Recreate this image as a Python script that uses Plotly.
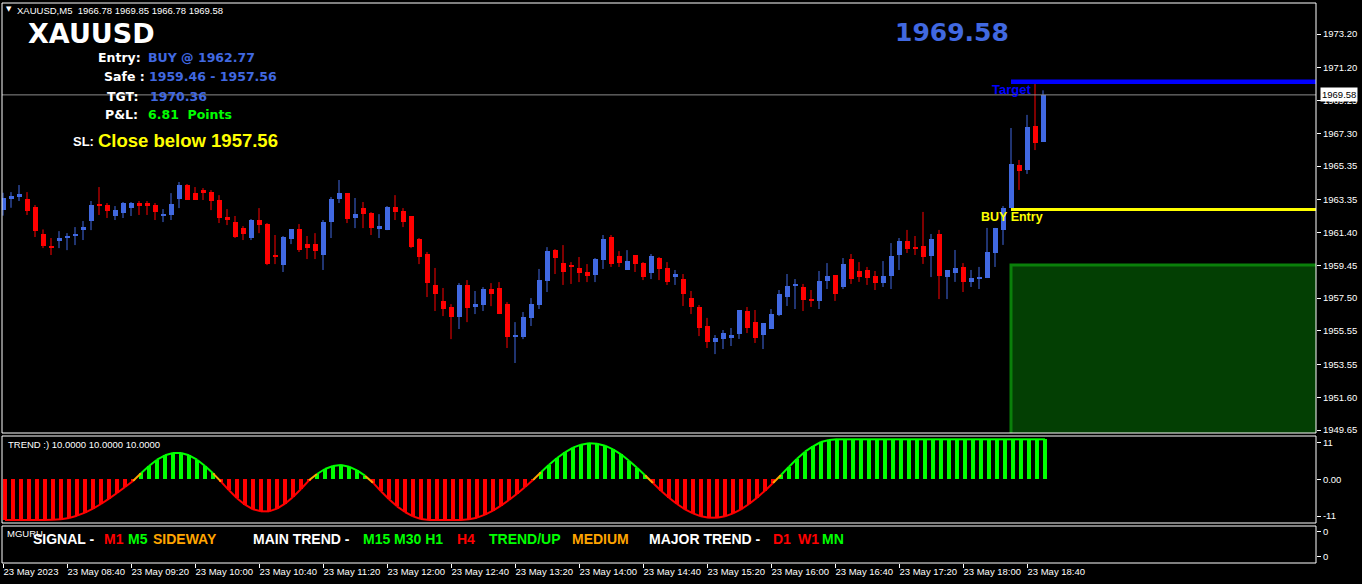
import pandas as pd
import plotly.graph_objects as go

# ---------------- data ----------------
symbol = "XAUUSD"
timeframe = "M5"
times = pd.date_range("2023-05-23 08:00", periods=131, freq="5min")

opens = [1962.73, 1963.39, 1963.51, 1963.39, 1962.91, 1961.31, 1960.59, 1960.89, 1961.07, 1961.19,
         1961.54, 1962.08, 1963.09, 1963.03, 1962.38, 1962.55, 1962.85, 1963.15, 1963.15, 1963.03,
         1962.40, 1962.44, 1963.39, 1964.22, 1963.74, 1963.92, 1963.80, 1963.33, 1962.32, 1962.02,
         1961.66, 1961.07, 1962.14, 1961.90, 1960.06, 1959.46, 1961.01, 1961.60, 1960.71, 1960.71,
         1960.06, 1962.02, 1963.39, 1963.74, 1962.26, 1962.85, 1962.55, 1961.60, 1961.54, 1962.91,
         1962.67, 1962.38, 1961.01, 1960.12, 1958.28, 1957.32, 1956.97, 1956.37, 1958.28, 1956.97,
         1957.08, 1958.04, 1958.10, 1957.14, 1955.20, 1955.18, 1956.31, 1957.08, 1958.51, 1960.35,
         1959.58, 1959.46, 1959.29, 1959.05, 1958.87, 1959.76, 1961.13, 1960.00, 1959.17, 1960.06,
         1959.58, 1958.99, 1959.88, 1959.29, 1958.75, 1958.63, 1957.50, 1956.97, 1955.84, 1954.89,
         1955.07, 1955.13, 1955.36, 1956.73, 1956.08, 1955.30, 1955.66, 1956.49, 1957.56, 1958.24,
         1958.16, 1957.44, 1957.33, 1958.51, 1958.87, 1958.16, 1959.82, 1959.11, 1959.17, 1958.81,
         1958.40, 1958.81, 1960.06, 1960.89, 1960.48, 1960.60, 1960.00, 1961.31, 1958.75, 1958.99,
         1959.35, 1958.46, 1958.63, 1958.69, 1960.18, 1961.55, 1962.86, 1965.41, 1965.12, 1967.73,
         1966.78]
highs = [1963.76, 1963.80, 1964.22, 1963.80, 1963.03, 1961.58, 1961.07, 1961.48, 1961.36, 1961.72,
         1962.08, 1963.27, 1964.10, 1963.15, 1962.97, 1963.21, 1963.21, 1963.27, 1963.27, 1963.15,
         1962.79, 1963.74, 1964.40, 1964.28, 1964.10, 1964.04, 1963.92, 1963.62, 1962.79, 1962.38,
         1961.78, 1962.20, 1962.85, 1961.96, 1961.25, 1961.19, 1961.60, 1961.90, 1961.19, 1961.36,
         1962.14, 1963.51, 1964.52, 1963.74, 1963.45, 1963.21, 1962.61, 1962.49, 1962.97, 1963.62,
         1962.85, 1962.38, 1961.07, 1960.24, 1959.29, 1958.10, 1957.14, 1958.39, 1958.57, 1957.92,
         1958.15, 1958.39, 1958.45, 1957.26, 1956.07, 1956.67, 1957.50, 1959.23, 1960.53, 1960.41,
         1960.65, 1959.64, 1959.94, 1959.52, 1959.88, 1961.25, 1961.25, 1960.29, 1960.35, 1960.06,
         1959.64, 1960.12, 1959.94, 1959.64, 1959.17, 1958.93, 1957.92, 1957.09, 1956.32, 1955.30,
         1955.60, 1955.72, 1956.79, 1956.97, 1956.79, 1956.02, 1956.85, 1957.98, 1958.93, 1958.63,
         1958.34, 1957.98, 1959.11, 1959.58, 1958.87, 1959.88, 1960.12, 1959.64, 1959.35, 1959.11,
         1959.70, 1960.77, 1961.07, 1961.55, 1961.19, 1962.62, 1961.31, 1961.55, 1959.17, 1960.36,
         1959.58, 1959.17, 1959.35, 1961.67, 1961.67, 1962.97, 1967.61, 1965.71, 1968.39, 1970.23,
         1969.85]
lows = [1962.40, 1962.87, 1963.27, 1962.44, 1961.13, 1960.47, 1960.06, 1960.47, 1960.35, 1960.65,
        1960.95, 1961.54, 1962.44, 1962.26, 1962.14, 1962.26, 1962.38, 1962.44, 1962.44, 1962.14,
        1962.02, 1962.14, 1962.85, 1963.33, 1963.33, 1963.33, 1962.73, 1961.96, 1961.84, 1961.07,
        1960.95, 1960.95, 1961.36, 1959.46, 1959.52, 1959.05, 1960.71, 1960.24, 1959.82, 1959.82,
        1959.17, 1961.07, 1963.15, 1961.96, 1961.66, 1961.66, 1961.25, 1961.07, 1961.54, 1962.14,
        1961.72, 1960.47, 1959.52, 1957.56, 1956.73, 1956.43, 1955.06, 1955.66, 1956.07, 1956.55,
        1956.73, 1957.02, 1956.55, 1954.53, 1953.64, 1955.06, 1955.84, 1956.85, 1957.86, 1958.93,
        1958.28, 1958.34, 1958.45, 1958.45, 1958.45, 1959.23, 1959.35, 1959.35, 1959.17, 1959.05,
        1958.57, 1958.63, 1958.57, 1958.28, 1958.28, 1957.03, 1956.55, 1955.24, 1954.53, 1954.17,
        1954.47, 1954.65, 1955.07, 1955.42, 1954.83, 1954.47, 1955.66, 1956.43, 1957.03, 1956.85,
        1956.73, 1956.97, 1956.85, 1958.04, 1957.33, 1958.04, 1958.34, 1958.46, 1958.28, 1957.98,
        1958.16, 1958.04, 1959.17, 1960.18, 1960.06, 1959.53, 1958.75, 1957.44, 1957.44, 1958.46,
        1957.86, 1958.16, 1958.04, 1958.69, 1959.35, 1960.66, 1962.86, 1963.93, 1964.88, 1966.30,
        1966.78]
closes = [1963.45, 1963.56, 1963.68, 1962.67, 1961.48, 1960.59, 1960.47, 1961.07, 1961.19, 1961.31,
          1961.72, 1963.03, 1962.97, 1962.67, 1962.73, 1963.15, 1963.15, 1962.97, 1962.97, 1962.61,
          1962.44, 1963.09, 1964.22, 1963.33, 1963.33, 1963.74, 1963.27, 1962.26, 1962.14, 1961.13,
          1961.31, 1962.14, 1961.84, 1959.52, 1959.94, 1961.13, 1961.60, 1960.35, 1960.47, 1960.29,
          1962.02, 1963.39, 1963.74, 1962.20, 1962.49, 1962.49, 1961.66, 1961.78, 1962.91, 1962.61,
          1962.02, 1960.53, 1959.94, 1958.39, 1957.74, 1956.85, 1956.37, 1958.28, 1956.91, 1957.14,
          1958.04, 1957.74, 1956.55, 1955.18, 1955.24, 1956.37, 1957.14, 1958.57, 1960.29, 1959.88,
          1959.05, 1959.35, 1958.99, 1958.81, 1959.82, 1961.01, 1959.52, 1959.58, 1959.70, 1959.52,
          1958.75, 1960.00, 1959.23, 1958.45, 1958.93, 1957.74, 1956.97, 1955.72, 1954.89, 1955.13,
          1955.42, 1955.30, 1956.79, 1955.72, 1955.13, 1956.02, 1956.55, 1957.74, 1958.22, 1958.28,
          1957.39, 1957.33, 1958.51, 1958.81, 1957.74, 1959.53, 1958.63, 1958.75, 1958.69, 1958.40,
          1958.81, 1960.00, 1960.89, 1960.42, 1960.42, 1959.94, 1961.01, 1958.81, 1959.17, 1959.29,
          1958.46, 1958.69, 1958.75, 1960.24, 1961.67, 1962.86, 1965.47, 1965.06, 1967.67, 1966.72,
          1969.58]

trend_values = [-12.2, -12.2, -12.2, -12.2, -12.2, -12.2, -12.1, -12.0, -11.6, -10.9,
                -10.0, -8.8, -7.4, -5.8, -4.1, -2.3, -0.5, 1.8, 4.0, 5.9,
                7.2, 7.9, 7.9, 7.2, 5.9, 4.0, 1.8, -0.7, -3.3, -5.7,
                -7.6, -9.0, -9.6, -9.6, -8.8, -7.3, -5.3, -2.9, -0.3, 1.6,
                3.1, 4.0, 4.3, 3.8, 2.7, 1.1, -1.0, -3.6, -6.0, -8.1,
                -9.8, -11.1, -11.9, -12.2, -12.2, -12.2, -12.2, -12.2, -12.0, -11.5,
                -10.6, -9.4, -7.9, -6.2, -4.3, -2.3, -0.2, 2.1, 4.4, 6.4,
                8.1, 9.5, 10.4, 10.8, 10.7, 10.1, 9.0, 7.5, 5.6, 3.5,
                1.2, -1.1, -3.4, -5.5, -7.4, -9.0, -10.2, -11.1, -11.5, -11.5,
                -11.1, -10.2, -9.0, -7.4, -5.5, -3.4, -1.1, 1.3, 3.8, 6.2,
                8.3, 9.9, 11.2, 11.8, 12.0, 12.0, 12.0, 12.0, 12.0, 12.0,
                12.0, 12.0, 12.0, 12.0, 12.0, 12.0, 12.0, 12.0, 12.0, 12.0,
                12.0, 12.0, 12.0, 12.0, 12.0, 12.0, 12.0, 12.0, 12.0, 12.0,
                12.0]

time_tick_labels = ["23 May 2023", "23 May 08:40", "23 May 09:20", "23 May 10:00", "23 May 10:40",
                    "23 May 11:20", "23 May 12:00", "23 May 12:40", "23 May 13:20", "23 May 14:00",
                    "23 May 14:40", "23 May 15:20", "23 May 16:00", "23 May 16:40", "23 May 17:20",
                    "23 May 18:00", "23 May 18:40"]
price_ticks = [1973.20, 1971.20, 1969.25, 1967.30, 1965.35, 1963.35, 1961.40,
               1959.45, 1957.50, 1955.55, 1953.55, 1951.60, 1949.65]
trend_ticks = [11, 0, -11]
trend_tick_labels = ["11", "0.00", "-11"]
trend_params = [10.0, 10.0, 10.0]

entry_price = 1962.77
safe_high = 1959.46
safe_low = 1957.56
target_price = 1970.36
pnl_points = 6.81
zone_bottom = 1948.5
signal_start_bar = 126

# ---------------- geometry helpers ----------------
W, H = 1362, 584
ML, MR, MT, MB = 2, 46, 3, 21
PW, PH = W - ML - MR, H - MT - MB
BAR_PX = 8


def pxx(px):
    return (px - ML) / PW


def pxy(py):
    return (H - MB - py) / PH


main_dom = [pxy(433), 1.0]
ind_dom = [pxy(523), pxy(436)]
sig_dom = [0.0, pxy(526)]

bar_len = pd.Timedelta(minutes=5)
x_start = times[0] - bar_len * (1 / BAR_PX)
x_end = x_start + bar_len * (PW / BAR_PX)

BLUE = "#4169E1"
RED = "#FF0000"
GREEN = "#00FF00"
ORANGE = "#FFA500"
YELLOW = "#FFFF00"
WHITE = "#FFFFFF"
FONT = "Liberation Sans"
WIDE = "DejaVu Sans"

fig = go.Figure()

# ---------------- candles ----------------
up = [c >= o for o, c in zip(opens, closes)]
body_base = [min(o, c) for o, c in zip(opens, closes)]
body_h = [max(abs(c - o), 0.06) for o, c in zip(opens, closes)]
body_col = [BLUE if u else RED for u in up]

for want, col in ((True, BLUE), (False, RED)):
    wx, wy = [], []
    for t, h, l, u in zip(times, highs, lows, up):
        if u == want:
            wx += [t, t, None]
            wy += [l, h, None]
    fig.add_trace(go.Scatter(x=wx, y=wy, mode="lines", line=dict(color=col, width=1),
                             xaxis="x", yaxis="y", hoverinfo="skip"))

fig.add_trace(go.Bar(x=times, y=body_h, base=body_base, width=bar_len.total_seconds() * 1000 * 5 / 8,
                     marker=dict(color=body_col, line=dict(width=0)), xaxis="x", yaxis="y",
                     hoverinfo="skip"))

# ---------------- trend histogram ----------------
hist_w = bar_len.total_seconds() * 1000 * 4 / 8
hist_col = [GREEN if v > 0 else RED for v in trend_values]
fig.add_trace(go.Bar(x=times, y=trend_values, base=0, width=hist_w, offset=0,
                     marker=dict(color=hist_col, line=dict(width=0)), xaxis="x2", yaxis="y2",
                     hoverinfo="skip"))
centers = [t + pd.Timedelta(milliseconds=hist_w / 2) for t in times]
segs = {RED: ([], []), GREEN: ([], []), ORANGE: ([], [])}
for i in range(len(trend_values) - 1):
    a, b = trend_values[i], trend_values[i + 1]
    col = RED if (a < 0 and b < 0) else GREEN if (a > 0 and b > 0) else ORANGE
    segs[col][0].extend([centers[i], centers[i + 1], None])
    segs[col][1].extend([a, b, None])
for col, (sx, sy) in segs.items():
    fig.add_trace(go.Scatter(x=sx, y=sy, mode="lines", line=dict(color=col, width=2),
                             xaxis="x2", yaxis="y2", hoverinfo="skip"))

# invisible trace so the bottom (signal) panel exists
fig.add_trace(go.Scatter(x=[times[0]], y=[0.5], mode="markers", marker=dict(opacity=0),
                         xaxis="x3", yaxis="y3", hoverinfo="skip"))

# ---------------- objects on main chart ----------------
obj_t0 = times[signal_start_bar]
shapes = [
    dict(type="rect", xref="x", yref="y", x0=obj_t0, x1=x_end + bar_len * 4, y0=zone_bottom, y1=safe_high,
         fillcolor="#033F03", line=dict(color="#0A800A", width=3), layer="below"),
    dict(type="line", xref="paper", yref="y", x0=0, x1=1, y0=closes[-1], y1=closes[-1],
         line=dict(color="#8C8C8C", width=1)),
    dict(type="line", xref="x", yref="y", x0=obj_t0, x1=x_end, y0=target_price, y1=target_price,
         line=dict(color="#0000FF", width=4.5)),
    dict(type="line", xref="x", yref="y", x0=obj_t0, x1=x_end, y0=entry_price, y1=entry_price,
         line=dict(color=YELLOW, width=3)),
]
# panel borders
for d in (main_dom, ind_dom, sig_dom):
    shapes.append(dict(type="rect", xref="paper", yref="paper", x0=0, x1=1, y0=d[0], y1=d[1],
                       line=dict(color=WHITE, width=1), fillcolor="rgba(0,0,0,0)", layer="above"))

annotations = []


def ann(text, px, py, size, color, family=FONT, bold=False, xanchor="left"):
    annotations.append(dict(text=f"<b>{text}</b>" if bold else text, xref="paper", yref="paper",
                            x=pxx(px), y=pxy(py), xanchor=xanchor, yanchor="middle", showarrow=False,
                            font=dict(size=size, color=color, family=family), borderpad=0))


# header
ann("▼", 5, 9, 7, WHITE, family=WIDE)
ann(f"{symbol},{timeframe}  {opens[-1]:.2f} {highs[-1]:.2f} {lows[-1]:.2f} {closes[-1]:.2f}",
    16, 10.5, 9.5, WHITE)
ann(symbol, 27, 33, 27, WHITE, family=WIDE, bold=True)
ann(f"{closes[-1]:.2f}", 894, 32.5, 25, BLUE, family=WIDE, bold=True)

# trade info
INFO = 12.5
ann("Entry:", 97, 57.5, INFO, WHITE, family=WIDE, bold=True)
ann(f"BUY @ {entry_price:.2f}", 147, 57.5, INFO, BLUE, family=WIDE, bold=True)
ann("Safe :", 103, 77, INFO, WHITE, family=WIDE, bold=True)
ann(f"{safe_high:.2f} - {safe_low:.2f}", 148, 77, INFO, BLUE, family=WIDE, bold=True)
ann("TGT:", 106, 97, INFO, WHITE, family=WIDE, bold=True)
ann(f"{target_price:.2f}", 149, 97, INFO, BLUE, family=WIDE, bold=True)
ann("P&L:", 104, 114.5, INFO, WHITE, family=WIDE, bold=True)
ann(f"{pnl_points:.2f}\u00a0\u00a0Points", 147, 114.5, INFO, GREEN, family=WIDE, bold=True)
ann("SL:", 72, 141, 13, WHITE, bold=True)
ann(f"Close below {safe_low:.2f}", 97, 140.5, 18.5, YELLOW, bold=True)

# object labels
ann("Target", 991, 89, 13, "#0000FF", bold=True)
ann("BUY Entry", 980, 217, 12.5, YELLOW, bold=True)

# indicator label
ann("TREND :) " + " ".join(f"{p:.4f}" for p in trend_params), 7, 444.5, 9.5, WHITE)

# signal panel
ann("MGURU", 6, 533, 9.5, WHITE)
sig_pieces = [("SIGNAL -", 32, WHITE), ("M1", 103, RED), ("M5", 127, GREEN), ("SIDEWAY", 152, ORANGE),
              ("MAIN TREND -", 252, WHITE), ("M15 M30 H1", 362, GREEN), ("H4", 456, RED),
              ("TREND/UP", 488, GREEN), ("MEDIUM", 571, ORANGE), ("MAJOR TREND -", 648, WHITE),
              ("D1", 772, RED), ("W1", 797, RED), ("MN", 821, GREEN)]
for txt, px, col in sig_pieces:
    ann(txt, px, 539, 14, col, bold=True)

# current price tag on the axis
annotations.append(dict(text=f"{closes[-1]:.2f}", xref="paper", yref="y", x=1, y=closes[-1],
                        xanchor="left", yanchor="middle", xshift=4, showarrow=False,
                        bgcolor=WHITE, borderpad=1, font=dict(size=9.5, color="#000000", family=FONT)))

axis_font = dict(size=9.5, color=WHITE, family=FONT)
hidden_x = dict(type="date", range=[x_start, x_end], domain=[0, 1], showticklabels=False,
                ticks="", showgrid=False, zeroline=False, showline=False, matches="x3")
fig.update_layout(
    width=W, height=H,
    margin=dict(l=ML, r=MR, t=MT, b=MB, pad=0),
    paper_bgcolor="#000000", plot_bgcolor="#000000",
    showlegend=False, hovermode=False, barmode="overlay", bargap=0,
    shapes=shapes, annotations=annotations,
    xaxis=dict(hidden_x, anchor="y"),
    xaxis2=dict(hidden_x, anchor="y2"),
    xaxis3=dict(type="date", range=[x_start, x_end], domain=[0, 1], anchor="y3",
                tickvals=list(times[::8]), ticktext=time_tick_labels, ticks="outside", ticklen=4,
                tickcolor=WHITE, tickfont=axis_font, ticklabelposition="outside right", tickangle=0,
                showgrid=False, zeroline=False, showline=False),
    yaxis=dict(domain=main_dom, range=[1949.478, 1975.043], side="right", anchor="x",
               tickvals=price_ticks, ticktext=[f"{v:.2f}" for v in price_ticks], ticks="outside",
               ticklen=4, tickcolor=WHITE, tickfont=axis_font, showgrid=False, zeroline=False),
    yaxis2=dict(domain=ind_dom, range=[-13.1, 13.0], side="right", anchor="x2",
                tickvals=trend_ticks, ticktext=trend_tick_labels, ticks="outside", ticklen=4,
                tickcolor=WHITE, tickfont=axis_font, showgrid=False, zeroline=False),
    yaxis3=dict(domain=sig_dom, range=[0, 1], side="right", anchor="x3",
                tickvals=[0.17, 0.846], ticktext=["0", "0"], ticks="outside", ticklen=4,
                tickcolor=WHITE, tickfont=axis_font, showgrid=False, zeroline=False),
)

fig.write_html(
    "out.html",
    config={"displayModeBar": False},
    post_script="document.body.style.margin='0px';document.documentElement.style.overflow='hidden';",
)
